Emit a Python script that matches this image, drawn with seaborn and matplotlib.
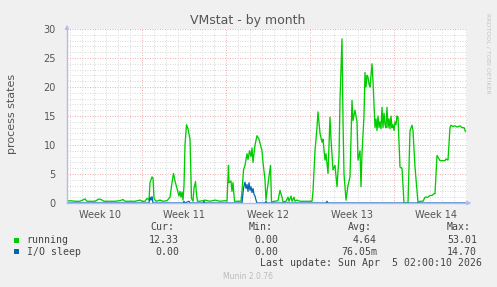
import matplotlib
matplotlib.use("Agg")
import matplotlib.pyplot as plt
import seaborn as sns
import pandas as pd

# ---- data (hours since Mon 2 Mar 2026 00:00) ----
running_hours = [18, 24, 34, 44, 54, 58, 74, 82, 86, 92, 104, 114, 124, 130, 134, 144, 154, 164, 168,
                 174, 178, 182, 184, 188, 190, 192, 196, 204, 210, 218, 224, 228, 231, 234, 238, 240,
                 242, 244, 246, 248, 250, 252, 254, 257, 260, 264, 267, 270, 272, 275, 277, 279, 284,
                 294, 304, 314, 324, 334, 338, 341, 342, 346, 348, 350, 353, 358, 366, 368, 371, 374,
                 378, 380, 383, 386, 388, 390, 392, 394, 398, 402, 408, 410, 414, 416, 418, 425, 427,
                 434, 440, 444, 448, 450, 456, 460, 462, 466, 468, 472, 474, 478, 484, 494, 508, 510,
                 514, 518, 520, 524, 528, 530, 534, 536, 540, 544, 546, 550, 554, 558, 562, 564, 568,
                 570, 572, 576, 580, 584, 588, 590, 594, 598, 600, 604, 606, 608, 612, 614, 616, 618,
                 620, 622, 624, 628, 630, 632, 634, 636, 638, 640, 642, 644, 646, 648, 650, 652, 654,
                 656, 658, 660, 662, 664, 666, 668, 670, 672, 674, 676, 678, 680, 684, 688, 692, 700,
                 704, 708, 710, 714, 720, 724, 730, 734, 740, 744, 748, 752, 754, 758, 764, 774, 776,
                 780, 784, 786, 790, 794, 798, 804, 808, 812, 815]
running_vals = [0.3, 0.4, 0.3, 0.3, 0.7, 0.3, 0.3, 0.7, 0.6, 0.3, 0.3, 0.3, 0.4, 0.6, 0.3, 0.3, 0.3, 0.5, 0.3,
                0.3, 0.8, 0.5, 3.5, 4.5, 4.3, 0.8, 0.3, 0.5, 0.3, 0.4, 1.0, 3.5, 5.1, 3.8, 2.5, 1.8,
                1.2, 2.0, 1.0, 1.9, 0.5, 3.0, 10.0, 13.5, 12.8, 11.0, 0.8, 0.3, 2.5, 3.7, 1.5, 0.3, 0.3,
                0.5, 0.3, 0.5, 0.3, 0.4, 0.3, 6.5, 3.5, 3.8, 2.0, 3.5, 0.3, 0.3, 0.3, 2.0, 5.7, 6.5,
                8.5, 7.5, 9.0, 8.0, 9.5, 7.0, 8.5, 10.0, 11.6, 11.0, 9.0, 7.0, 4.0, 0.5, 2.0, 6.5, 0.2,
                0.3, 0.4, 2.2, 1.0, 0.2, 0.3, 1.0, 0.3, 1.2, 0.3, 1.0, 0.3, 0.5, 0.3, 0.3, 0.3, 2.0,
                9.0, 13.0, 15.7, 12.0, 10.5, 11.0, 7.4, 8.5, 5.1, 14.8, 11.0, 5.7, 6.5, 2.8, 8.0, 17.7, 28.3,
                14.2, 5.0, 0.5, 3.0, 4.5, 17.7, 14.2, 16.0, 14.0, 7.4, 9.0, 2.8, 8.6, 15.0, 22.5, 20.0, 22.0,
                21.7, 20.5, 20.0, 24.0, 21.0, 16.8, 13.0, 14.5, 12.5, 15.0, 13.0, 14.0, 12.8, 16.5, 13.0, 15.5, 13.5,
                13.0, 16.5, 13.0, 14.5, 12.8, 15.0, 13.0, 13.5, 12.5, 14.0, 13.5, 15.0, 14.8, 6.2, 6.0, 0.0, 0.0,
                12.5, 13.4, 12.5, 6.2, 0.0, 0.3, 0.3, 1.0, 1.0, 1.3, 1.3, 1.6, 1.6, 8.2, 7.3, 7.3, 7.6,
                7.4, 13.0, 13.4, 13.2, 13.3, 13.1, 13.3, 13.0, 13.0, 12.3]

iosleep_hours = [18, 182, 184, 186, 188, 190, 250, 252, 254, 262, 264, 290, 292, 294, 368, 371, 374, 376,
                 378, 380, 382, 384, 386, 388, 390, 392, 394, 396, 398, 414, 416, 418, 536, 538, 540, 815]
iosleep_vals = [0, 0, 1.0, 0.5, 1.1, 0, 0, 0.3, 0, 0.3, 0, 0, 0.3, 0, 0, 2.5, 3.6, 2.5,
                3.2, 2.0, 3.5, 2.2, 2.8, 1.8, 2.5, 1.5, 1.2, 0.5, 0, 0, 0.3, 0, 0, 0.3, 0, 0]

week_labels = ["Week 10", "Week 11", "Week 12", "Week 13", "Week 14"]
legend_names = ["running", "I/O sleep"]
legend_cur = ["12.33", "0.00"]
legend_min = ["0.00", "0.00"]
legend_avg = ["4.64", "76.05m"]
legend_max = ["53.01", "14.70"]
colors = ["#00CC00", "#0066B3"]

# ---- figure ----
sns.set_style("white")
plt.rcParams["font.family"] = ["DejaVu Sans"]
W, H = 497, 287
fig = plt.figure(figsize=(W / 100, H / 100), dpi=100, facecolor="#F0F0F0")
L, R, T, B = 67, 467, 29, 203
ax = fig.add_axes([L / W, 1 - B / H, (R - L) / W, (B - T) / H])
ax.set_facecolor("white")

df_run = pd.DataFrame({"h": running_hours, "v": running_vals})
df_io = pd.DataFrame({"h": iosleep_hours, "v": iosleep_vals})
sns.lineplot(data=df_run, x="h", y="v", ax=ax, color=colors[0], lw=0.95, zorder=3)
sns.lineplot(data=df_io, x="h", y="v", ax=ax, color=colors[1], lw=0.9, zorder=4)

ax.set_xlim(18, 818)
ax.set_ylim(0, 30)
ax.set_xlabel("")
ax.set_ylabel("")

grey = "#DADADA"
red = "#F0B0B0"
dot = (0, (1, 1.5))
# vertical grid
for d in range(1, 35):
    hh = d * 24
    if 18 < hh < 818:
        ax.axvline(hh, color=(red if d % 7 == 0 else grey), lw=0.72, ls=dot, zorder=1)
# horizontal grid
for v in range(1, 31):
    ax.axhline(v, color=(red if v % 5 == 0 else grey), lw=0.72, ls=dot, zorder=1)

ax.set_xticks([84 + 168 * i for i in range(len(week_labels))])
ax.set_xticklabels(week_labels)
ax.set_yticks(range(0, 31, 5))
ax.set_yticks(range(0, 31), minor=True)
ax.tick_params(axis="x", length=0, pad=5, labelsize=7, labelcolor="#555555")
ax.tick_params(axis="y", which="major", length=2, width=0.7, color=red, pad=6,
               labelsize=7, labelcolor="#555555")
ax.tick_params(axis="y", which="minor", length=2, width=0.7, color=grey)

for s in ["top", "right"]:
    ax.spines[s].set_visible(False)
axis_col = "#B8B8F0"
for s in ["left", "bottom"]:
    ax.spines[s].set_color(axis_col)
    ax.spines[s].set_linewidth(1.0)
    ax.spines[s].set_zorder(6)
# axis arrows
ax.annotate("", xy=(0, 1.04), xytext=(0, 0.98), xycoords="axes fraction",
            arrowprops=dict(arrowstyle="-|>", color=axis_col, lw=0.8, mutation_scale=6),
            annotation_clip=False)
ax.annotate("", xy=(1.018, 0), xytext=(0.995, 0), xycoords="axes fraction",
            arrowprops=dict(arrowstyle="-|>", color=axis_col, lw=0.8, mutation_scale=6),
            annotation_clip=False)

def px(x, y):
    return x / W, 1 - y / H

fig.text(*px(248, 24.3), "VMstat - by month", ha="center", va="baseline", fontsize=9, color="#555555")
fig.text(*px(12.5, 114), "process states", ha="center", va="center", rotation=90,
         fontsize=8, color="#555555")
fig.text(*px(488, 53), "RRDTOOL / TOBI OETIKER", ha="center", va="center", rotation=270,
         fontsize=4.5, color="#C4C4C4")

mono = dict(family="DejaVu Sans Mono", fontsize=7.1, color="#444444", va="center")
for txt, x in zip(["Cur:", "Min:", "Avg:", "Max:"], [150, 249, 348, 447]):
    fig.text(*px(x, 227.5), txt, ha="left", **mono)
rows_y = [240, 251.7]
for i in range(2):
    y = rows_y[i]
    fig.patches.append(plt.Rectangle(px(14, y + 2.5), 5 / W, 5 / H, transform=fig.transFigure,
                                     facecolor=colors[i], edgecolor="none"))
    fig.text(*px(26.7, y), legend_names[i], ha="left", **mono)
    for vals, xr in zip([legend_cur, legend_min, legend_avg, legend_max], [179, 278, 377, 477]):
        fig.text(*px(xr, y), vals[i], ha="right", **mono)
fig.text(*px(482.5, 263.3), "Last update: Sun Apr  5 02:00:10 2026", ha="right", **mono)
fig.text(*px(248, 276.7), "Munin 2.0.76", ha="center", va="center", fontsize=5.5, color="#BBBBBB")

fig.savefig("out.png", dpi=100, facecolor=fig.get_facecolor())
